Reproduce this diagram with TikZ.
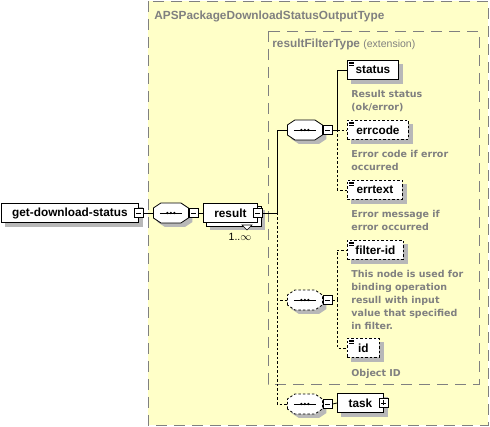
\documentclass[tikz,border=0pt]{standalone}
\usepackage{fontspec}
\setmainfont{Liberation Sans}
\newfontfamily\notefont{DejaVu Sans}
\definecolor{bgyellow}{RGB}{255,255,200}
\definecolor{txtgray}{RGB}{128,128,128}
\definecolor{shadowgray}{RGB}{184,184,184}
\pgfdeclarelayer{back}
\pgfdeclarelayer{shade}
\pgfsetlayers{back,shade,main}
\tikzset{
  every path/.style={line width=0.8pt},
  bigdash/.style={draw=txtgray, dash pattern=on 11pt off 7pt},
  smalldash/.style={dash pattern=on 2.5pt off 2pt},
  elem/.style={draw, fill=white, anchor=west, minimum height=19pt, inner sep=0pt,
    font=\bfseries\fontsize{11.8}{13}\selectfont},
  optelem/.style={elem, smalldash},
  seqcore/.style={anchor=west, minimum width=35pt, minimum height=20pt, inner sep=0pt},
  minus/.style={draw, fill=white, minimum size=9pt, inner sep=0pt,
    path picture={\draw ([xshift=2pt]path picture bounding box.west) -- ([xshift=-2pt]path picture bounding box.east);}},
  plus/.style={minus, path picture={
    \draw ([xshift=2pt]path picture bounding box.west) -- ([xshift=-2pt]path picture bounding box.east);
    \draw ([yshift=2pt]path picture bounding box.south) -- ([yshift=-2pt]path picture bounding box.north);}},
  typetitle/.style={anchor=west, inner sep=0pt, text=txtgray, font=\bfseries\fontsize{11.8}{13}\selectfont},
  note/.style={anchor=north west, inner sep=0pt, align=left, text=txtgray,
    font=\notefont\bfseries\fontsize{9.5}{13}\selectfont},
  card/.style={inner sep=0pt, font=\fontsize{10.5}{12}\selectfont}
}
% gray shadow behind a named box
\newcommand\boxshade[1]{\begin{pgfonlayer}{shade}
  \fill[shadowgray] ([shift={(4pt,-4pt)}]#1.south west) rectangle ([shift={(4pt,-4pt)}]#1.north east);
  \end{pgfonlayer}}
% second copy and shadow behind a repeated element
\newcommand\multishade[1]{\begin{pgfonlayer}{shade}
  \fill[shadowgray] ([shift={(7pt,-7pt)}]#1.south west) rectangle ([shift={(7pt,-7pt)}]#1.north east);
  \draw[fill=white] ([shift={(3.5pt,-3.5pt)}]#1.south west) rectangle ([shift={(3.5pt,-3.5pt)}]#1.north east);
  \end{pgfonlayer}}
% three little lines in the corner of an element box
\newcommand\elemicon[1]{\foreach \k in {0,1,2}
  \draw[solid, line width=0.6pt] ([xshift=2pt, yshift={-(2+1.7*\k)*1pt}]#1.north west) -- ++(5pt,0);}
% octagon of a sequence compositor round a named node
\newcommand\seqoutline[2][]{%
  \fill[shadowgray] ([shift={(4pt,-4pt)}]#2.center) ++(-17.5pt,-5pt) -- ++(0,10pt) -- ++(7.5pt,5pt) -- ++(20pt,0)
    -- ++(7.5pt,-5pt) -- ++(0,-10pt) -- ++(-7.5pt,-5pt) -- ++(-20pt,0) -- cycle;
  \draw[fill=white,#1] (#2.center) ++(-17.5pt,-5pt) -- ++(0,10pt) -- ++(7.5pt,5pt) -- ++(20pt,0)
    -- ++(7.5pt,-5pt) -- ++(0,-10pt) -- ++(-7.5pt,-5pt) -- ++(-20pt,0) -- cycle;
  \draw (#2.center) ++(-11pt,0) -- ++(22pt,0);
  \foreach \d in {-3.5,0,3.5} \fill ([xshift=\d pt]#2.center) circle (1.3pt);}
\begin{document}
\begin{tikzpicture}[x=1pt,y=-1pt]
\useasboundingbox (0,0) rectangle (490,427);
% type boxes
\begin{pgfonlayer}{back}
\draw[bigdash, fill=bgyellow] (148,1) rectangle (488,425);
\draw[bigdash] (268,31) rectangle (479,384);
\end{pgfonlayer}
\node[typetitle] (outerTitle) at (154,16) {APSPackageDownloadStatusOutputType};
\node[typetitle] (innerTitle) at (272,44) {resultFilterType {\mdseries\fontsize{10.5}{13}\selectfont (extension)}};
% top level
\node[elem, minimum width=137pt] (root) at (1,213) {get-download-status};
\boxshade{root}
\node[minus] (mRoot) at (root.east) {};
\node[seqcore] (seqTop) at (153,213) {};
\seqoutline{seqTop}
\node[minus, anchor=west] (mSeqTop) at (seqTop.east) {};
\node[elem, minimum width=54pt] (result) at (203,213) {result};
\multishade{result}
\node[minus] (mResult) at (result.east) {};
\draw[fill=white, line width=0.6pt] (242,225) -- (252,225) -- (247,230) -- cycle;
\node[card] (resultCard) at (240,237) {1..$\infty$};
\coordinate (trunk) at (277,213);
% first sequence
\node[seqcore] (seqA) at (287,130) {};
\seqoutline{seqA}
\node[minus, anchor=west] (mSeqA) at (seqA.east) {};
\coordinate (brA) at (337,130);
\node[elem, minimum width=51pt] (status) at (347,70) {status};
\node[optelem, minimum width=61pt] (errcode) at (347,130) {errcode};
\node[optelem, minimum width=55pt] (errtext) at (347,190) {errtext};
\node[note] (statusNote) at (351,90) {Result status\\(ok/error)};
\node[note] (errcodeNote) at (351,150) {Error code if error\\occurred};
\node[note] (errtextNote) at (351,210) {Error message if\\error occurred};
% second sequence
\node[seqcore] (seqB) at (287,300) {};
\seqoutline[smalldash]{seqB}
\node[minus, anchor=west] (mSeqB) at (seqB.east) {};
\coordinate (brB) at (337,300);
\node[optelem, minimum width=56pt] (filterid) at (347,250) {filter-id};
\node[optelem, minimum width=32pt] (id) at (347,348) {id};
\node[note] (filteridNote) at (351,270) {This node is used for\\binding operation\\resull with input\\value that specified\\in filter.};
\node[note] (idNote) at (351,369) {Object ID};
% task
\node[seqcore] (seqC) at (287,404) {};
\seqoutline[smalldash]{seqC}
\node[minus, anchor=west] (mSeqC) at (seqC.east) {};
\node[elem, minimum width=46pt] (task) at (337,403) {task};
\node[plus] (pTask) at (task.east) {};
\foreach \b in {status,errcode,errtext,filterid,id,task} {\boxshade{\b}}
\elemicon{status}
\elemicon{errcode}
\elemicon{errtext}
\elemicon{filterid}
\elemicon{id}
% connectors
\draw (mRoot.east) -- (seqTop.west);
\draw (mSeqTop.east) -- (result.west);
\draw (mResult.east) -- (trunk) |- (seqA.west);
\draw[smalldash] (trunk) |- (seqB.west);
\draw[smalldash] (trunk) |- (seqC.west);
\draw (mSeqA.east) -- (brA) |- (status.west);
\draw[smalldash] (brA) -- (errcode.west);
\draw[smalldash] (brA) |- (errtext.west);
\draw[smalldash] (mSeqB.east) -- (brB);
\draw[smalldash] (brB) |- (filterid.west);
\draw[smalldash] (brB) |- (id.west);
\draw (mSeqC.east) -- (task.west);
\end{tikzpicture}
\end{document}
